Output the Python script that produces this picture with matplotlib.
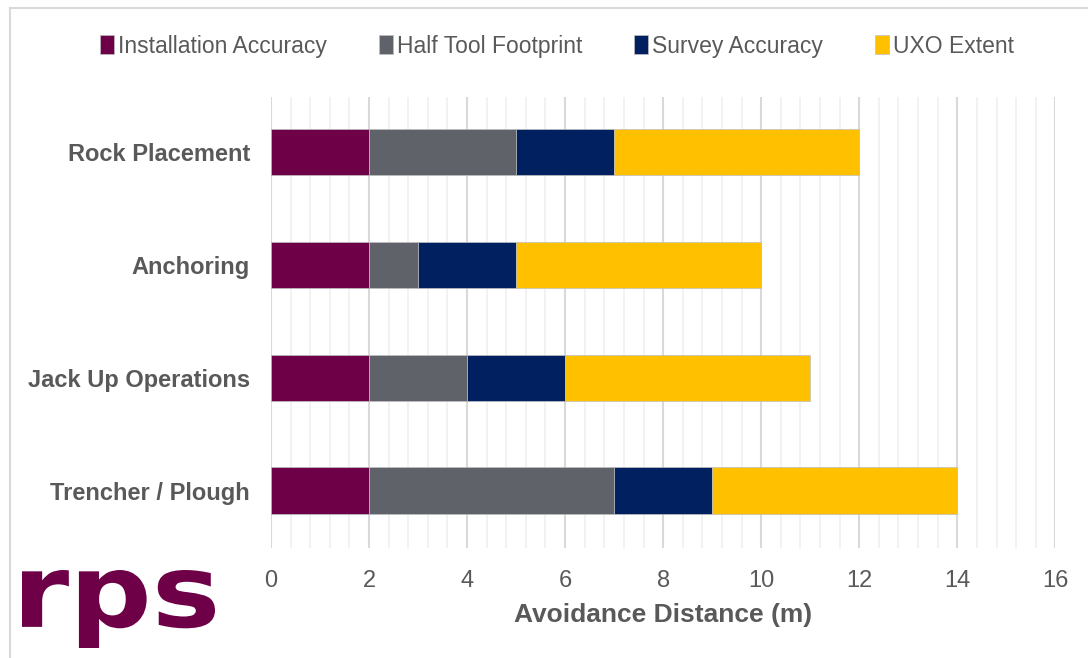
import matplotlib.pyplot as plt
import numpy as np
from matplotlib.textpath import TextPath
from matplotlib.patches import PathPatch
from matplotlib.font_manager import FontProperties
from matplotlib.transforms import Affine2D

plt.rcParams['font.family'] = ['Liberation Sans', 'DejaVu Sans']

# data
categories = ['Trencher / Plough', 'Jack Up Operations', 'Anchoring', 'Rock Placement']
series = ['Installation Accuracy', 'Half Tool Footprint', 'Survey Accuracy', 'UXO Extent']
installation = [2, 2, 2, 2]
half_tool = [5, 2, 1, 3]
survey = [2, 2, 2, 2]
uxo = [5, 5, 5, 5]
colors = ['#6D0046', '#5F6269', '#002060', '#FFC000']

W, H = 1088, 658
fig = plt.figure(figsize=(W / 100, H / 100), dpi=100)
ax = fig.add_axes([0.249, 0.167, 0.721, 0.686])

y = np.arange(len(categories))
left = np.zeros(len(categories))
for name, vals, c in zip(series, [installation, half_tool, survey, uxo], colors):
    ax.barh(y, vals, left=left, height=0.41, color=c, label=name,
            edgecolor='#BFBFBF', linewidth=0.5, zorder=3)
    left += np.array(vals)

ax.set_xlim(0, 16)
ax.set_ylim(-0.51, 3.49)
ax.set_xticks(np.arange(0, 17, 2))
ax.set_xticks(np.arange(0, 16.01, 0.4), minor=True)
ax.grid(axis='x', which='major', color='#D9D9D9', linewidth=1.5, zorder=0)
ax.grid(axis='x', which='minor', color='#F0F0F0', linewidth=1.2, zorder=0)
ax.tick_params(axis='both', which='both', length=0)
ax.tick_params(axis='x', labelsize=17, labelcolor='#595959', pad=16)
ax.set_yticks(y)
ax.set_yticklabels(categories, fontsize=17, fontweight='bold', color='#595959')
ax.tick_params(axis='y', pad=15)
for s in ax.spines.values():
    s.set_visible(False)

ax.set_xlabel('Avoidance Distance (m)', fontsize=19, fontweight='bold', color='#595959', labelpad=8)

handles, labels = ax.get_legend_handles_labels()
fig.legend(handles, labels, loc='center', bbox_to_anchor=(0.512, 0.93), ncol=4,
           frameon=False, fontsize=16.5, labelcolor='#595959',
           handlelength=0.6, handleheight=0.9, handletextpad=0.2, columnspacing=2.25)

# chart frame
fig.add_artist(plt.Line2D([0.0092, 0.0092], [0, 0.988], color='#D9D9D9', lw=1.5))
fig.add_artist(plt.Line2D([0.0092, 1.0], [0.988, 0.988], color='#D9D9D9', lw=1.5))

# logo: "rps" stretched into its box (pixels, from top-left)
tp = TextPath((0, 0), 'rps', size=100, prop=FontProperties(family='DejaVu Sans', weight='bold'))
ext = tp.get_extents()
x0, x1, ytop, ybot = 22, 215, 570, 648
sx = (x1 - x0) / ext.width
sy = (ybot - ytop) / ext.height
tr = Affine2D().translate(-ext.x0, -ext.y0).scale(sx, sy).translate(x0, H - ybot)
logo = PathPatch(tr.transform_path(tp), facecolor='#6D0046', edgecolor='none', transform=None)
fig.add_artist(logo)

fig.savefig('out.png', dpi=100)
